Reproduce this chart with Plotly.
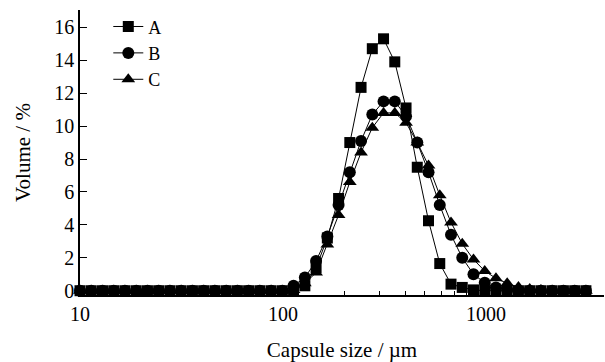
import plotly.graph_objects as go

# Capsule size classes (µm)
size_um = [10.0, 11.36, 12.91, 14.66, 16.65, 18.92, 21.49, 24.41, 27.73, 31.50,
           35.79, 40.65, 46.18, 52.46, 59.60, 67.70, 76.91, 87.37, 99.25, 112.7,
           128.1, 145.5, 165.3, 187.8, 213.3, 242.3, 275.3, 312.7, 355.2, 403.6,
           458.4, 520.8, 591.6, 672.1, 763.5, 867.3, 985.3, 1119, 1271, 1444,
           1641, 1864, 2117, 2405, 2733, 3104]

vol_A = [0, 0, 0, 0, 0, 0, 0, 0, 0, 0,
         0, 0, 0, 0, 0, 0, 0, 0, 0, 0.05,
         0.3, 1.4, 3.2, 5.6, 9.0, 12.35, 14.7, 15.3, 13.9, 11.1,
         7.5, 4.25, 1.65, 0.4, 0.2, 0.05, 0, 0, 0, 0,
         0, 0, 0, 0, 0, 0]

vol_B = [0, 0, 0, 0, 0, 0, 0, 0, 0, 0,
         0, 0, 0, 0, 0, 0, 0, 0, 0, 0.3,
         0.8, 1.8, 3.3, 5.2, 7.2, 9.1, 10.7, 11.5, 11.5, 10.6,
         9.0, 7.2, 5.2, 3.4, 2.0, 1.0, 0.48, 0.2, 0.05, 0,
         0, 0, 0, 0, 0, 0]

vol_C = [0, 0, 0, 0, 0, 0, 0, 0, 0, 0,
         0, 0, 0, 0, 0, 0, 0, 0, 0, 0.05,
         0.45, 1.1, 2.8, 4.6, 6.6, 8.4, 9.9, 10.8, 10.8, 10.2,
         9.0, 7.6, 5.8, 4.15, 2.85, 1.9, 1.2, 0.75, 0.45, 0.22,
         0.1, 0.05, 0, 0, 0, 0]

series_names = ["A", "B", "C"]
series_vals = [vol_A, vol_B, vol_C]
symbols = ["square", "circle", "triangle-up"]
msizes = [11, 12, 12]

x_tickvals = [10, 100, 1000]
x_ticktext = ["10", "100", "1000"]
x_minor = [20, 30, 40, 50, 60, 70, 80, 90, 200, 300, 400, 500, 600, 700, 800, 900, 2000, 3000]
y_tickvals = [0, 2, 4, 6, 8, 10, 12, 14, 16]

FONT = "Liberation Serif, Times New Roman, serif"

fig = go.Figure()
for name, vals, sym, ms in zip(series_names, series_vals, symbols, msizes):
    fig.add_trace(go.Scatter(
        x=size_um, y=vals, name=name, mode="lines+markers",
        line=dict(color="black", width=1),
        marker=dict(symbol=sym, size=ms, color="black"),
        cliponaxis=False,
    ))

fig.update_layout(
    width=605, height=362,
    margin=dict(l=80, r=1, t=10, b=65),
    paper_bgcolor="white", plot_bgcolor="white",
    font=dict(family=FONT, size=20, color="black"),
    showlegend=True,
    legend=dict(x=0.054, y=1.006, xanchor="left", yanchor="top",
                bgcolor="rgba(0,0,0,0)", font=dict(size=18, family=FONT),
                itemwidth=30, tracegroupgap=0),
    xaxis=dict(
        type="log", range=[1.0, 3.581],
        showgrid=False, zeroline=False,
        showline=True, linecolor="black", linewidth=1.5,
        tickmode="array", tickvals=x_tickvals, ticktext=x_ticktext,
        ticks="inside", ticklen=7, tickcolor="black", tickwidth=1,
        minor=dict(ticks="inside", ticklen=4, tickcolor="black", tickwidth=1,
                   tickmode="array", tickvals=x_minor, showgrid=False),
        tickfont=dict(size=20, family=FONT),
        title=dict(text="Capsule size / µm", font=dict(size=21, family=FONT), standoff=22),
    ),
    yaxis=dict(
        range=[-0.26, 17.05],
        showgrid=False, zeroline=False,
        showline=True, linecolor="black", linewidth=1.5,
        tickmode="array", tickvals=y_tickvals,
        ticks="inside", ticklen=7, tickcolor="black", tickwidth=1,
        tickfont=dict(size=20, family=FONT),
        title=dict(text="Volume / %", font=dict(size=21, family=FONT), standoff=18),
    ),
)

fig.write_html("out.html")
